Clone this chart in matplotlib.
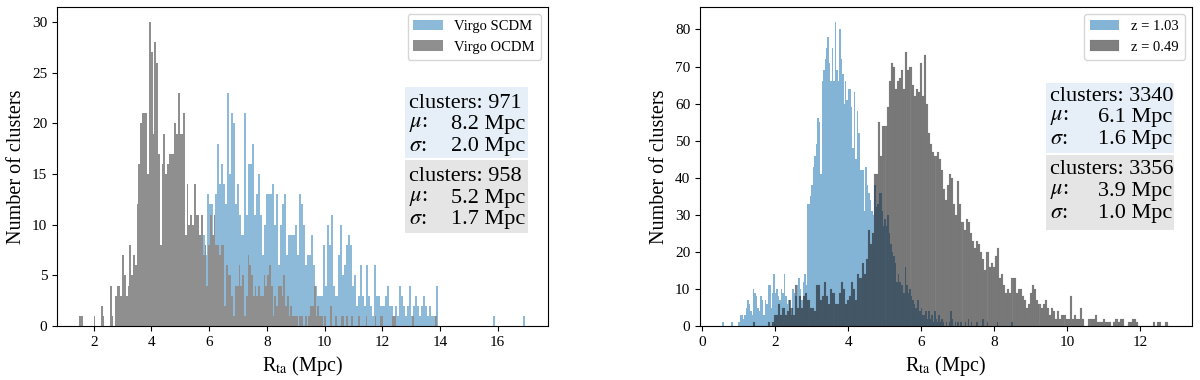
import numpy as np
import matplotlib
matplotlib.use("Agg")
import matplotlib.pyplot as plt
from matplotlib.patches import Rectangle
from matplotlib.ticker import MultipleLocator

plt.rcParams['font.family'] = 'serif'
plt.rcParams['font.serif'] = ['Liberation Serif', 'DejaVu Serif']
plt.rcParams['mathtext.fontset'] = 'stix'

# --- left panel: Virgo SCDM / OCDM, counts per bin (200 bins each) ---
scdm_range = (2.8, 16.96)
scdm_counts = [
    0, 1, 0, 0, 1, 0, 0, 1, 0, 1,
    1, 0, 2, 1, 1, 2, 1, 2, 2, 1,
    3, 2, 3, 2, 3, 4, 3, 2, 4, 3,
    4, 5, 4, 3, 5, 4, 6, 5, 4, 6,
    5, 7, 9, 7, 13, 12, 12, 4, 13, 18,
    14, 16, 14, 12, 23, 15, 21, 20, 12, 14,
    11, 9, 21, 11, 16, 16, 18, 11, 13, 15,
    11, 7, 10, 13, 13, 13, 14, 10, 13, 6,
    10, 12, 13, 7, 9, 9, 9, 10, 7, 13,
    12, 10, 6, 7, 7, 9, 6, 4, 3, 3,
    3, 8, 4, 10, 8, 11, 4, 3, 7, 10,
    5, 6, 8, 9, 8, 4, 5, 2, 3, 6,
    3, 2, 6, 3, 2, 1, 6, 3, 3, 2,
    2, 3, 4, 2, 2, 1, 2, 1, 4, 3,
    2, 1, 2, 4, 1, 2, 3, 2, 1, 2,
    3, 2, 1, 2, 1, 1, 4, 0, 0, 0,
    0, 0, 0, 0, 0, 0, 0, 0, 0, 0,
    0, 0, 0, 0, 0, 0, 0, 0, 0, 0,
    0, 0, 0, 0, 1, 0, 0, 0, 0, 0,
    0, 0, 0, 0, 0, 0, 0, 0, 0, 1,
]
ocdm_range = (1.5, 13.9)
ocdm_counts = [
    1, 1, 0, 0, 0, 0, 0, 0, 1, 0,
    0, 0, 2, 1, 0, 0, 0, 4, 1, 0,
    3, 4, 4, 3, 7, 5, 3, 4, 8, 5,
    7, 6, 12, 16, 20, 21, 21, 21, 15, 30,
    27, 19, 28, 26, 17, 8, 16, 19, 15, 16,
    17, 17, 17, 20, 19, 23, 19, 19, 21, 9,
    14, 10, 11, 10, 14, 11, 11, 9, 11, 7,
    8, 4, 8, 11, 9, 11, 8, 8, 7, 8,
    8, 2, 6, 5, 5, 3, 1, 4, 4, 6,
    4, 5, 1, 3, 7, 6, 5, 3, 4, 3,
    4, 3, 3, 5, 4, 5, 6, 4, 1, 3,
    2, 4, 4, 3, 5, 2, 3, 1, 2, 1,
    1, 1, 0, 1, 1, 0, 1, 0, 1, 2,
    2, 4, 1, 2, 1, 1, 0, 1, 0, 0,
    2, 0, 0, 1, 0, 0, 1, 1, 0, 1,
    0, 0, 1, 0, 0, 0, 1, 0, 0, 0,
    1, 0, 0, 0, 0, 1, 0, 0, 1, 1,
    0, 0, 0, 0, 0, 1, 1, 0, 0, 0,
    0, 0, 0, 0, 0, 0, 1, 0, 0, 0,
    0, 0, 0, 0, 0, 0, 0, 0, 0, 1,
]
left_labels = ['Virgo SCDM', 'Virgo OCDM']
left_stats = [('971', '8.2', '2.0'), ('958', '5.2', '1.7')]

# --- right panel: z = 1.03 / z = 0.49 ---
z103_range = (0.55, 8.55)
z103_counts = [
    1, 0, 0, 0, 0, 0, 1, 0, 0, 0,
    0, 1, 3, 3, 2, 3, 5, 7, 6, 4,
    3, 10, 9, 8, 5, 4, 8, 7, 3, 7,
    6, 11, 11, 5, 9, 14, 9, 10, 8, 7,
    10, 9, 14, 8, 6, 7, 5, 3, 10, 9,
    8, 11, 13, 10, 7, 12, 14, 11, 33, 33,
    35, 38, 43, 46, 49, 56, 55, 41, 66, 69,
    72, 75, 78, 71, 66, 75, 66, 82, 69, 66,
    80, 72, 68, 60, 66, 61, 64, 64, 59, 48,
    63, 45, 58, 52, 42, 42, 42, 31, 43, 38,
    36, 34, 31, 30, 38, 32, 33, 36, 36, 31,
    27, 29, 27, 30, 25, 22, 20, 19, 17, 12,
    14, 12, 11, 11, 9, 16, 11, 9, 10, 8,
    7, 6, 5, 7, 7, 4, 5, 3, 3, 4,
    2, 4, 2, 3, 1, 4, 2, 1, 3, 1,
    2, 1, 0, 1, 0, 1, 4, 2, 0, 1,
    0, 1, 0, 1, 0, 0, 1, 0, 2, 0,
    1, 0, 0, 0, 1, 0, 0, 0, 2, 0,
    0, 1, 0, 0, 0, 0, 0, 0, 1, 0,
    0, 0, 0, 0, 0, 0, 0, 0, 1, 0,
]
z049_range = (1.4, 12.8)
z049_counts = [
    1, 0, 0, 0, 0, 0, 0, 1, 0, 1,
    3, 3, 6, 3, 5, 3, 4, 7, 5, 3,
    11, 5, 8, 5, 8, 9, 7, 5, 5, 4,
    11, 11, 7, 8, 12, 8, 6, 10, 9, 6,
    6, 9, 12, 10, 6, 7, 8, 12, 10, 7,
    14, 13, 17, 14, 18, 26, 22, 25, 41, 41,
    55, 46, 54, 54, 59, 66, 71, 70, 64, 66,
    67, 69, 64, 74, 69, 70, 65, 62, 64, 63,
    71, 62, 73, 60, 52, 49, 47, 46, 47, 45,
    42, 37, 34, 38, 41, 40, 33, 30, 39, 33,
    28, 26, 29, 28, 25, 23, 21, 23, 22, 20,
    18, 15, 20, 16, 17, 16, 19, 21, 13, 14,
    11, 9, 10, 9, 13, 13, 9, 10, 10, 8,
    7, 5, 6, 9, 11, 10, 7, 6, 5, 6,
    7, 5, 3, 5, 4, 2, 4, 2, 3, 3,
    2, 2, 8, 2, 3, 2, 2, 5, 2, 0,
    0, 2, 2, 2, 3, 1, 1, 1, 2, 1,
    1, 1, 0, 1, 2, 1, 2, 2, 0, 0,
    1, 1, 2, 2, 1, 0, 0, 0, 0, 0,
    0, 0, 1, 0, 1, 1, 0, 0, 1, 0,
]
right_labels = ['z = 1.03', 'z = 0.49']
right_stats = [('3340', '6.1', '1.6'), ('3356', '3.9', '1.0')]


def hist_counts(ax, rng, counts, **kw):
    edges = np.linspace(rng[0], rng[1], len(counts) + 1)
    centers = 0.5 * (edges[:-1] + edges[1:])
    ax.hist(centers, bins=edges, weights=counts, **kw)


def stats_box(ax, x0, x1, tops, bottoms, rows, vals, colors):
    for top, bot, lines, val, col in zip(tops, bottoms, rows, vals, colors):
        ax.add_patch(Rectangle((x0, bot), x1 - x0, top - bot, transform=ax.transAxes,
                               facecolor=col, edgecolor='none', zorder=5))
        n, mu, sig = val
        ax.text(x0 + 0.008, lines[0], 'clusters: ' + n, transform=ax.transAxes,
                ha='left', va='center', fontsize=16, zorder=6)
        ax.text(x0 + 0.008, lines[1], r'$\mu$:', transform=ax.transAxes,
                ha='left', va='center', fontsize=16, zorder=6)
        ax.text(x0 + 0.008, lines[2], r'$\sigma$:', transform=ax.transAxes,
                ha='left', va='center', fontsize=16, zorder=6)
        ax.text(x1 - 0.004, lines[1], mu + ' Mpc', transform=ax.transAxes,
                ha='right', va='center', fontsize=16, zorder=6)
        ax.text(x1 - 0.004, lines[2], sig + ' Mpc', transform=ax.transAxes,
                ha='right', va='center', fontsize=16, zorder=6)


fig = plt.figure(figsize=(12, 3.8), dpi=100)
ax1 = fig.add_axes([0.0475, 0.142, 0.409, 0.84])
ax2 = fig.add_axes([0.5833, 0.142, 0.41, 0.84])

# left
hist_counts(ax1, scdm_range, scdm_counts, color='#1f77b4', alpha=0.5, label=left_labels[0])
hist_counts(ax1, ocdm_range, ocdm_counts, color='#8f8f8f', label=left_labels[1])
ax1.xaxis.set_major_locator(MultipleLocator(2))
ax1.yaxis.set_major_locator(MultipleLocator(5))
ax1.set_xlabel(r'R$_{\rm ta}$ (Mpc)', fontsize=14.5)
ax1.set_ylabel('Number of clusters', fontsize=14.5)
ax1.legend(loc='upper right', fontsize=10.5)
stats_box(ax1, 0.709, 0.959, [0.749, 0.520], [0.527, 0.292],
          [(0.696, 0.630, 0.564), (0.467, 0.401, 0.335)], left_stats,
          ['#e6eff7', '#e5e5e5'])

# right
hist_counts(ax2, z103_range, z103_counts, color='#1f77b4', alpha=0.55, label=right_labels[0])
hist_counts(ax2, z049_range, z049_counts, color='black', alpha=0.5,
            edgecolor='#555555', linewidth=0.15, label=right_labels[1])
ax2.xaxis.set_major_locator(MultipleLocator(2))
ax2.yaxis.set_major_locator(MultipleLocator(10))
ax2.set_xlabel(r'R$_{\rm ta}$ (Mpc)', fontsize=14.5)
ax2.set_ylabel('Number of clusters', fontsize=14.5)
ax2.legend(loc='upper right', fontsize=10.5)
stats_box(ax2, 0.703, 0.963, [0.762, 0.536], [0.542, 0.301],
          [(0.718, 0.652, 0.583), (0.489, 0.420, 0.354)], right_stats,
          ['#e6eff7', '#e5e5e5'])

for ax in (ax1, ax2):
    ax.tick_params(labelsize=11)

fig.savefig('out.png', dpi=100)
